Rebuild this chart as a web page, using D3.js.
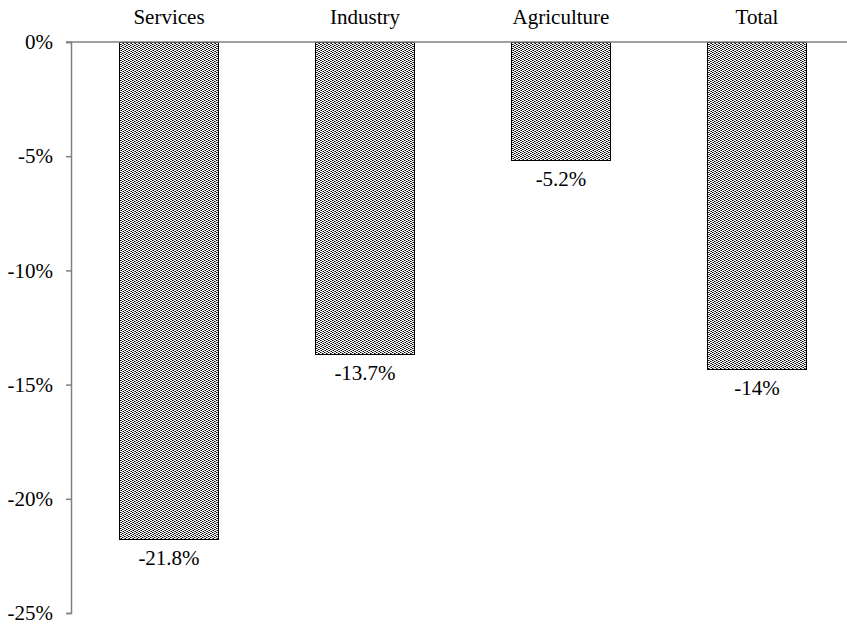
<!DOCTYPE html>
<html>
<head>
<meta charset="utf-8">
<script src="https://cdn.jsdelivr.net/npm/d3@7"></script>
<style>
  html, body { margin: 0; padding: 0; background: #fff; }
  svg { display: block; }
</style>
</head>
<body>
<svg id="chart" width="847" height="627"></svg>
<script>
const categories = ["Services", "Industry", "Agriculture", "Total"];
const values = [-21.8, -13.7, -5.2, -14.35];
const valueLabels = ["-21.8%", "-13.7%", "-5.2%", "-14%"];
const yTicks = [0, -5, -10, -15, -20, -25];

const W = 847, H = 627;
const FONT = '"Liberation Serif", "DejaVu Serif", serif';
const svg = d3.select("#chart");

const defs = svg.append("defs");
const pat = defs.append("pattern")
  .attr("id", "dots").attr("patternUnits", "userSpaceOnUse")
  .attr("width", 4).attr("height", 4);
pat.append("rect").attr("width", 4).attr("height", 4).attr("fill", "#fff");
const grid = ["KGWW", "WWKG", "GKWW", "WWGK"];
grid.forEach((row, r) => row.split("").forEach((c, k) => {
  if (c === "W") return;
  pat.append("rect").attr("x", k).attr("y", r).attr("width", 1).attr("height", 1)
    .attr("fill", c === "K" ? "#000" : "#777");
}));

const x = d3.scaleBand().domain(categories).range([71, 855])
  .paddingInner(0.49).paddingOuter(0.245);
const y = d3.scaleLinear().domain([0, -25]).range([42, 613]);

// y axis
const yAxis = d3.axisLeft(y).tickValues(yTicks).tickSize(5).tickPadding(13)
  .tickFormat(d => d + "%");
const gy = svg.append("g").attr("transform", "translate(71,0)").call(yAxis)
  .attr("font-family", FONT).attr("font-size", 21);
gy.select(".domain").attr("stroke", "#808080").attr("stroke-width", 1.5);
gy.selectAll(".tick line").attr("stroke", "#808080").attr("stroke-width", 1.5);
gy.selectAll(".tick text").style("font-family", FONT).style("font-size", "21px").attr("fill", "#000");

// bars
svg.append("g").selectAll("rect").data(categories).join("rect")
  .attr("x", d => x(d))
  .attr("y", y(0))
  .attr("width", x.bandwidth())
  .attr("height", (d, i) => y(values[i]) - y(0))
  .attr("fill", "url(#dots)")
  .attr("stroke", "#000").attr("stroke-width", 1)
  .attr("shape-rendering", "crispEdges");

// zero line
svg.append("line").attr("x1", 66).attr("x2", W).attr("y1", y(0)).attr("y2", y(0))
  .attr("stroke", "#808080").attr("stroke-width", 1.5);

// category labels
svg.append("g").selectAll("text").data(categories).join("text")
  .attr("x", d => x(d) + x.bandwidth() / 2)
  .attr("y", 24)
  .attr("text-anchor", "middle")
  .style("font-family", FONT).style("font-size", "21px")
  .text(d => d);

// value labels
svg.append("g").selectAll("text").data(categories).join("text")
  .attr("x", d => x(d) + x.bandwidth() / 2)
  .attr("y", (d, i) => y(values[i]) + 25)
  .attr("text-anchor", "middle")
  .style("font-family", FONT).style("font-size", "21px")
  .text((d, i) => valueLabels[i]);
</script>
</body>
</html>
